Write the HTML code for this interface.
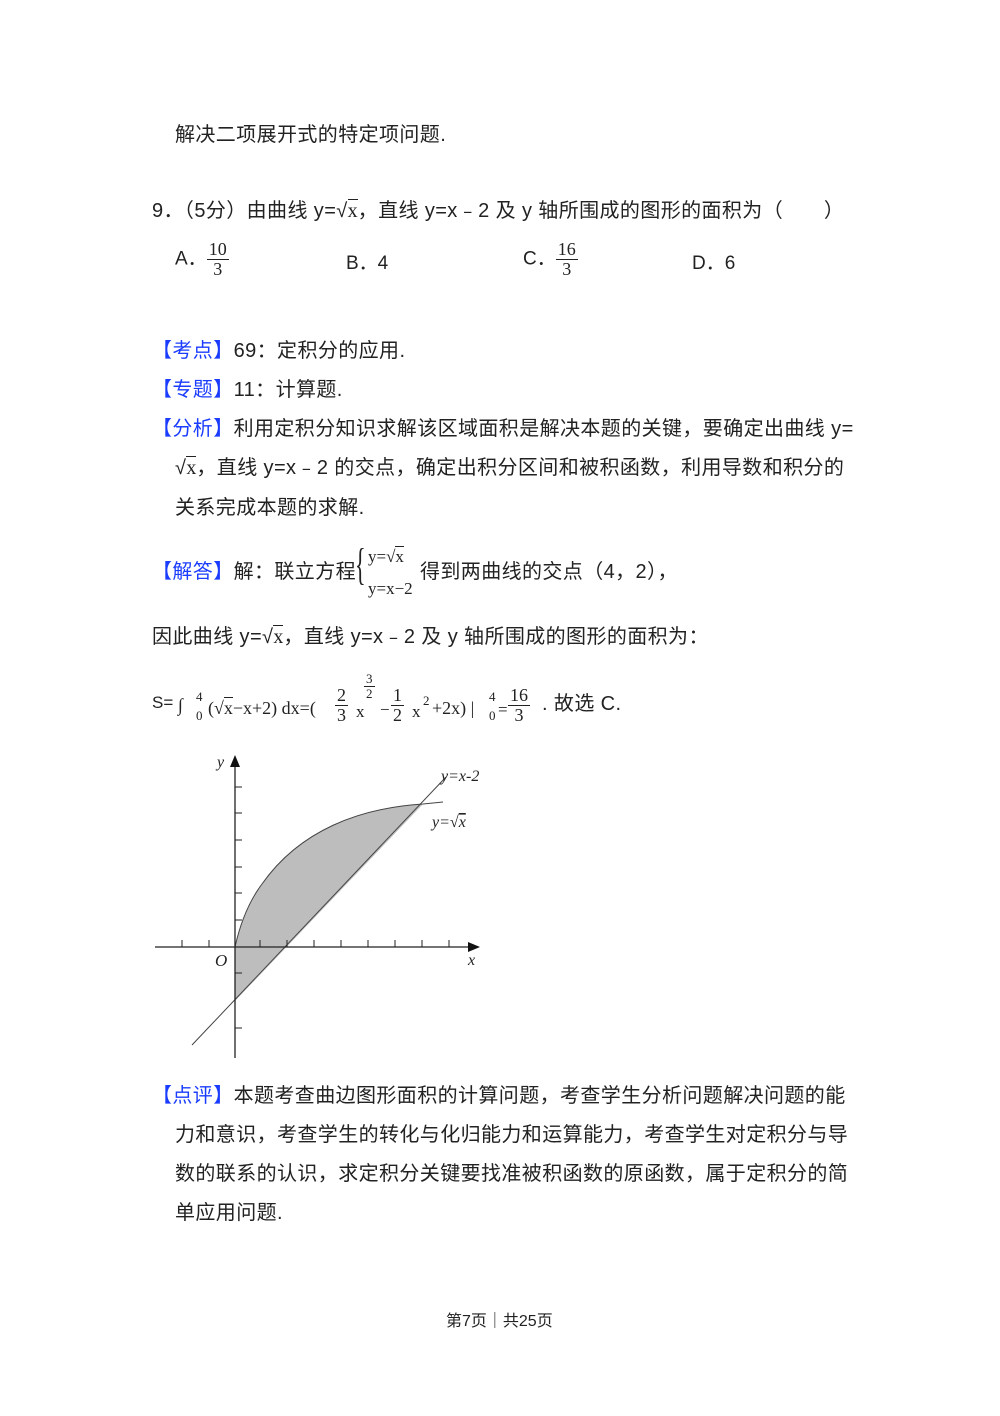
<!DOCTYPE html>
<html><head><meta charset="utf-8"><style>
body{margin:0;background:#fff;}
.p{position:relative;width:1000px;height:1416px;font-family:"Liberation Sans","Noto Sans CJK SC",sans-serif;color:#222;font-size:19px;}
.t{position:absolute;white-space:nowrap;line-height:1;}
.L{font-size:20px;letter-spacing:0.4px;}
.b{color:#1a3cff;}
.s{font-family:"Liberation Serif","Noto Serif CJK SC",serif;letter-spacing:0;}
.fr{display:inline-block;vertical-align:middle;text-align:center;font-family:"Liberation Serif",serif;font-size:18px;line-height:1.05;letter-spacing:0;}
.fr span{display:block;padding:0 2px;}
.fr span:first-child{border-bottom:1px solid #222;}
.sq{border-top:1px solid #222;}
</style></head><body><div class="p">
<div class="t L" style="left:175px;top:125px">解决二项展开式的特定项问题.</div>
<div class="t L" style="left:152px;top:201px">9．（5分）由曲线 y=√<span class="sq s">x</span>，直线 y=x﹣2 及 y 轴所围成的图形的面积为（　　）</div>
<div class="t" style="left:175px;top:240px">A．<span class="fr"><span>10</span><span>3</span></span></div>
<div class="t" style="left:346px;top:254px">B．4</div>
<div class="t" style="left:523px;top:240px">C．<span class="fr"><span>16</span><span>3</span></span></div>
<div class="t" style="left:692px;top:254px">D．6</div>
<div class="t L" style="left:152px;top:341px"><span class="b">【考点】</span>69：定积分的应用.</div>
<div class="t L" style="left:152px;top:380px"><span class="b">【专题】</span>11：计算题.</div>
<div class="t L" style="left:152px;top:419px"><span class="b">【分析】</span>利用定积分知识求解该区域面积是解决本题的关键，要确定出曲线 y=</div>
<div class="t L" style="left:175px;top:458px">√<span class="sq s">x</span>，直线 y=x﹣2 的交点，确定出积分区间和被积函数，利用导数和积分的</div>
<div class="t L" style="left:175px;top:498px">关系完成本题的求解.</div>
<div class="t L" style="left:152px;top:562px"><span class="b">【解答】</span>解：联立方程</div>
<div class="t s" style="left:355px;top:543px;font-size:44px;font-weight:100;transform:scaleX(0.5);transform-origin:left">{</div>
<div class="t s" style="left:368px;top:548px;font-size:17px">y=√<span class="sq">x</span></div>
<div class="t s" style="left:368px;top:580px;font-size:17px">y=x−2</div>
<div class="t L" style="left:420px;top:562px">得到两曲线的交点（4，2），</div>
<div class="t L" style="left:152px;top:627px">因此曲线 y=√<span class="sq s">x</span>，直线 y=x﹣2 及 y 轴所围成的图形的面积为：</div>
<div class="t" style="left:152px;top:694px;font-size:17px">S=</div>
<div class="t s" style="left:178px;top:696px;font-size:18px">∫</div>
<div class="t s" style="left:196px;top:690px;font-size:13px">4</div>
<div class="t s" style="left:196px;top:709px;font-size:13px">0</div>
<div class="t s" style="left:208px;top:699px;font-size:18px">(√<span class="sq">x</span>−x+2) dx=(</div>
<div class="t" style="left:335px;top:686px"><span class="fr"><span>2</span><span>3</span></span></div>
<div class="t s" style="left:356px;top:703px;font-size:17px">x</div>
<div class="t" style="left:364px;top:672px;font-size:12px"><span class="fr" style="font-size:13px"><span>3</span><span>2</span></span></div>
<div class="t s" style="left:380px;top:701px;font-size:17px">−</div>
<div class="t" style="left:391px;top:686px"><span class="fr"><span>1</span><span>2</span></span></div>
<div class="t s" style="left:412px;top:703px;font-size:17px">x</div>
<div class="t s" style="left:423px;top:694px;font-size:13px">2</div>
<div class="t s" style="left:432px;top:699px;font-size:18px">+2x) |</div>
<div class="t s" style="left:489px;top:690px;font-size:13px">4</div>
<div class="t s" style="left:489px;top:709px;font-size:13px">0</div>
<div class="t s" style="left:498px;top:701px;font-size:17px">=</div>
<div class="t" style="left:508px;top:686px"><span class="fr"><span>16</span><span>3</span></span></div>
<div class="t L" style="left:542px;top:694px">.&nbsp;故选 C.</div>
<svg style="position:absolute;left:0;top:0" width="1000" height="1416">
<path d="M235,947 C241,920 250,900 262,884 C300,830 360,808 423,804 L235,1001 Z" fill="#bdbdbd"/>
<path d="M235,947 C241,920 250,900 262,884 C300,830 360,808 423,804 L443,802" fill="none" stroke="#444" stroke-width="1"/>
<line x1="192" y1="1045" x2="446" y2="777" stroke="#444" stroke-width="1"/>
<line x1="155" y1="947" x2="472" y2="947" stroke="#222" stroke-width="1.3"/>
<polygon points="480,947 468,942 468,952" fill="#111"/>
<line x1="235" y1="1058" x2="235" y2="765" stroke="#222" stroke-width="1.3"/>
<polygon points="235,755 230,767 240,767" fill="#111"/>
<g stroke="#222" stroke-width="1">
<path d="M182,947v-7M209,947v-7M260,947v-7M287,947v-7M314,947v-7M341,947v-7M368,947v-7M395,947v-7M422,947v-7M449,947v-7"/>
<path d="M235,787h7M235,813h7M235,840h7M235,867h7M235,893h7M235,920h7M235,973h7M235,1028h7"/>
</g>
<g font-family="Liberation Serif,serif" font-style="italic" font-size="16" fill="#222">
<text x="217" y="767">y</text><text x="215" y="966" font-size="17">O</text><text x="468" y="965">x</text>
<text x="441" y="781">y=x-2</text><text x="432" y="827">y=√<tspan text-decoration="overline">x</tspan></text>
</g>
</svg>
<div class="t L" style="left:152px;top:1086px"><span class="b">【点评】</span>本题考查曲边图形面积的计算问题，考查学生分析问题解决问题的能</div>
<div class="t L" style="left:175px;top:1125px">力和意识，考查学生的转化与化归能力和运算能力，考查学生对定积分与导</div>
<div class="t L" style="left:175px;top:1164px">数的联系的认识，求定积分关键要找准被积函数的原函数，属于定积分的简</div>
<div class="t L" style="left:175px;top:1203px">单应用问题.</div>
<div class="t" style="left:446px;top:1314px;font-size:16px">第7页｜共25页</div>
</div></body></html>
